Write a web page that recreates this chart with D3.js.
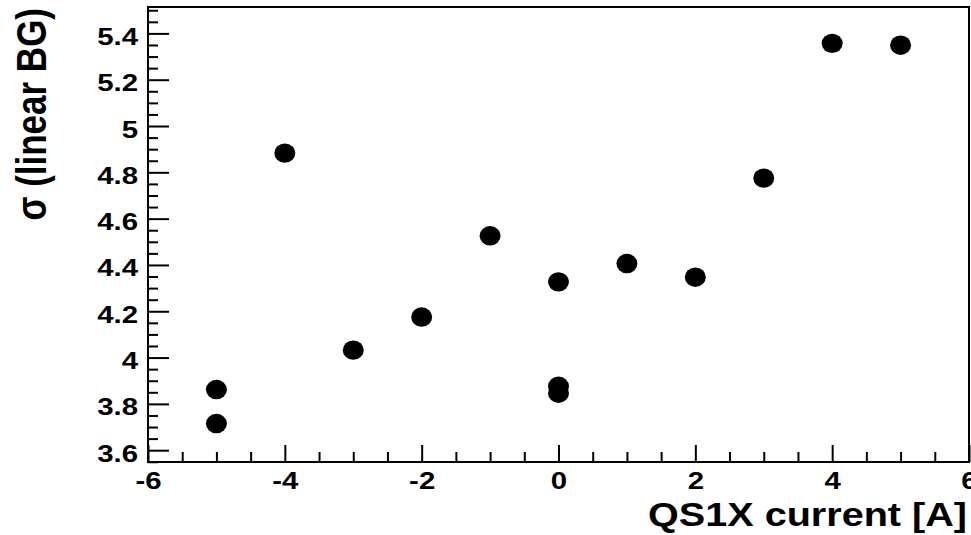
<!DOCTYPE html>
<html>
<head>
<meta charset="utf-8">
<script src="https://cdn.jsdelivr.net/npm/d3@7"></script>
<style>
  body { margin: 0; background: #fff; }
  svg text { font-family: "Liberation Sans", Arial, Helvetica, sans-serif; font-weight: bold; fill: #000; }
</style>
</head>
<body>
<svg id="chart" width="971" height="535"></svg>
<script>
// Measured width of the beam versus quadrupole current
const currents = [-5, -5, -4, -3, -2, -1, 0, 0, 0, 1, 2, 3, 4, 5];
const sigmas   = [3.862, 3.715, 4.883, 4.032, 4.175, 4.526, 4.327, 3.876, 3.846, 4.406, 4.347, 4.775, 5.357, 5.349];

const xTicks = [-6, -4, -2, 0, 2, 4, 6];
const yTicks = [3.6, 3.8, 4, 4.2, 4.4, 4.6, 4.8, 5, 5.2, 5.4];
const xTitle = "QS1X current [A]";
const yTitle = "σ (linear BG)";

const svg = d3.select("#chart");
const frame = { left: 148, right: 969, top: 7, bottom: 462 };
const stretch = 1.2;   // wide lettering

const x = d3.scaleLinear().domain([-6, 6]).range([frame.left, frame.right]);
const y = d3.scaleLinear().domain([3.549, 5.514]).range([frame.bottom, frame.top]);

const xMinor = d3.range(-12, 13).map(i => i * 0.5).filter(v => !xTicks.includes(v));
const yMinor = d3.range(71, 111).map(i => +(i * 0.05).toFixed(2))
  .filter(v => v >= y.domain()[0] && v <= y.domain()[1] && !yTicks.some(t => Math.abs(t - v) < 1e-9));

const fmt = d => String(d);

// minor ticks (inside the frame)
svg.append("g")
  .attr("transform", `translate(0,${frame.bottom})`)
  .call(d3.axisBottom(x).tickValues(xMinor).tickSize(-10).tickFormat(""))
  .call(g => g.select(".domain").remove());
svg.append("g")
  .attr("transform", `translate(${frame.left},0)`)
  .call(d3.axisLeft(y).tickValues(yMinor).tickSize(-10).tickFormat(""))
  .call(g => g.select(".domain").remove());

// major ticks with labels
const xAxis = svg.append("g")
  .attr("transform", `translate(0,${frame.bottom})`)
  .call(d3.axisBottom(x).tickValues(xTicks).tickSize(-17).tickPadding(9.5).tickFormat(fmt))
  .call(g => g.select(".domain").remove());
xAxis.selectAll("text")
  .attr("font-size", 24.5)
  .attr("transform", `scale(${stretch},1)`);

const yAxis = svg.append("g")
  .attr("transform", `translate(${frame.left},0)`)
  .call(d3.axisLeft(y).tickValues(yTicks).tickSize(-21).tickPadding(8.3).tickFormat(fmt))
  .call(g => g.select(".domain").remove());
yAxis.selectAll("text")
  .attr("font-size", 24.5)
  .attr("dy", "0.45em")
  .attr("transform", `scale(${stretch},1)`);

svg.selectAll(".tick line").attr("stroke", "#000").attr("stroke-width", 2);
svg.selectAll("g").attr("font-family", null);

// frame
svg.append("rect")
  .attr("x", frame.left).attr("y", frame.top)
  .attr("width", frame.right - frame.left).attr("height", frame.bottom - frame.top)
  .attr("fill", "none").attr("stroke", "#000").attr("stroke-width", 2);

// data markers
svg.append("g")
  .selectAll("ellipse")
  .data(currents.map((c, i) => ({ c, s: sigmas[i] })))
  .join("ellipse")
  .attr("cx", d => x(d.c))
  .attr("cy", d => y(d.s))
  .attr("rx", 10.5)
  .attr("ry", 9.7)
  .attr("fill", "#000");

// axis titles
svg.append("text")
  .attr("transform", `translate(967,526) scale(${stretch},1)`)
  .attr("text-anchor", "end")
  .attr("font-size", 33)
  .text(xTitle);

svg.append("text")
  .attr("transform", `translate(46,8) scale(${stretch},1) rotate(-90)`)
  .attr("text-anchor", "end")
  .attr("font-size", 35)
  .text(yTitle);
</script>
</body>
</html>
